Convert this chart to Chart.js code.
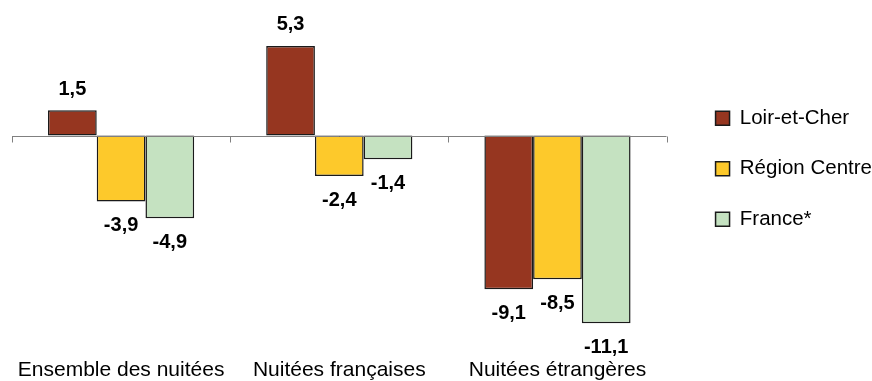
<!DOCTYPE html>
<html>
<head>
<meta charset="utf-8">
<script src="https://cdn.jsdelivr.net/npm/chart.js@4"></script>
<style>
  html, body { margin: 0; padding: 0; background: #fff; }
  #wrap { width: 872px; height: 381px; }
</style>
</head>
<body>
<div id="wrap"><canvas id="nuitees"></canvas></div>
<script>
const categories = ["Ensemble des nuitées", "Nuitées françaises", "Nuitées étrangères"];
const seriesNames = ["Loir-et-Cher", "Région Centre", "France*"];
const loirEtCher = [1.5, 5.3, -9.1];
const regionCentre = [-3.9, -2.4, -8.5];
const france = [-4.9, -1.4, -11.1];
const seriesColors = ["#963620", "#FDC92B", "#C5E2C1"];

const FONT = "'Liberation Sans', Arial, sans-serif";

// zero line with tick marks at category boundaries
const zeroAxis = {
  id: "zeroAxis",
  afterDatasetsDraw(chart) {
    const { ctx, scales: { x, y }, chartArea } = chart;
    const y0 = Math.round(y.getPixelForValue(0)) + 0.5;
    ctx.save();
    ctx.strokeStyle = "#808080";
    ctx.lineWidth = 1;
    ctx.beginPath();
    ctx.moveTo(chartArea.left, y0);
    ctx.lineTo(chartArea.right, y0);
    for (let i = 0; i <= categories.length; i++) {
      const px = Math.round(x.getPixelForValue(i - 0.5)) + 0.5;
      ctx.moveTo(px, y0);
      ctx.lineTo(px, y0 + 6);
    }
    ctx.stroke();
    ctx.restore();
  },
};

const valueLabels = {
  id: "valueLabels",
  afterDatasetsDraw(chart) {
    const { ctx } = chart;
    ctx.save();
    ctx.font = "bold 20px " + FONT;
    ctx.fillStyle = "#000";
    ctx.textAlign = "center";
    ctx.textBaseline = "middle";
    chart.data.datasets.forEach((ds, di) => {
      chart.getDatasetMeta(di).data.forEach((bar, i) => {
        const v = ds.data[i];
        const ty = v >= 0 ? bar.y - 21 : bar.y + 24;
        ctx.fillText(v.toFixed(1).replace(".", ","), bar.x, ty);
      });
    });
    ctx.restore();
  },
};

new Chart(document.getElementById("nuitees"), {
  type: "bar",
  data: {
    labels: categories,
    datasets: [
      { label: seriesNames[0], data: loirEtCher, backgroundColor: seriesColors[0] },
      { label: seriesNames[1], data: regionCentre, backgroundColor: seriesColors[1] },
      { label: seriesNames[2], data: france, backgroundColor: seriesColors[2] },
    ].map((d) => ({ ...d, borderColor: "#1a1a1a", borderWidth: 1.5, borderSkipped: false })),
  },
  plugins: [zeroAxis, valueLabels],
  options: {
    responsive: true,
    maintainAspectRatio: false,
    animation: false,
    layout: { padding: { left: 12, right: -10, top: 18, bottom: 0 } },
    datasets: { bar: { categoryPercentage: 0.67, barPercentage: 1 } },
    plugins: {
      tooltip: { enabled: false },
      legend: {
        position: "right",
        align: "start",
        title: { display: true, text: " ", font: { size: 10 }, padding: { top: 48, bottom: 0 } },
        labels: {
          font: { family: FONT, size: 20.5 },
          color: "#000",
          boxWidth: 14,
          boxHeight: 14,
          padding: 30,
          generateLabels: (chart) =>
            chart.data.datasets.map((ds, i) => ({
              text: ds.label,
              fillStyle: ds.backgroundColor,
              strokeStyle: "#1a1a1a",
              fontColor: "#000",
              lineWidth: 1.5,
              datasetIndex: i,
            })),
        },
      },
    },
    scales: {
      x: {
        grid: { display: false },
        border: { display: false },
        ticks: { font: { family: FONT, size: 21 }, color: "#000", padding: 15, maxRotation: 0 },
        afterFit: (scale) => {
          scale.height = 46;
          scale.paddingLeft = 0;
          scale.paddingRight = 0;
        },
      },
      y: {
        min: -11.8,
        max: 6.95,
        display: false,
      },
      // empty right scale, only keeps a gap between the plot and the legend
      gap: {
        position: "right",
        grid: { display: false },
        border: { display: false },
        ticks: { display: false },
        afterFit: (scale) => { scale.width = 19; },
      },
    },
  },
});
</script>
</body>
</html>
